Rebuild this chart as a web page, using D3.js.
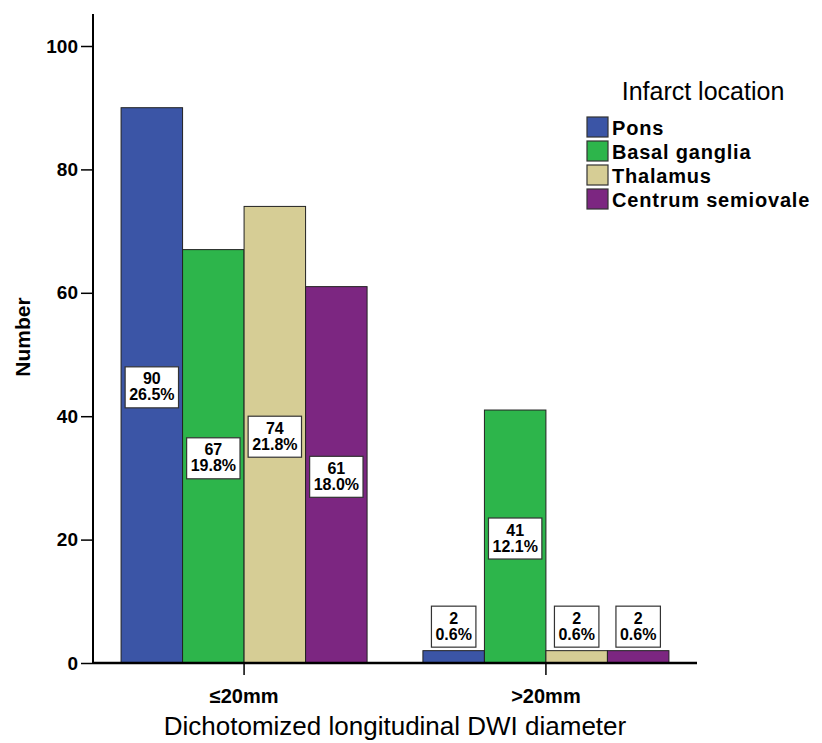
<!DOCTYPE html>
<html>
<head>
<meta charset="utf-8">
<script src="https://cdn.jsdelivr.net/npm/d3@7"></script>
<style>
  body { margin: 0; background: #fff; }
  text { font-family: "Liberation Sans", Arial, sans-serif; }
</style>
</head>
<body>
<svg width="822" height="743"></svg>
<script>
let groups = ["≤20mm", ">20mm"]
let locations = ["Pons", "Basal ganglia", "Thalamus", "Centrum semiovale"]
let colors = ["#3b55a6", "#2db54b", "#d6cd95", "#7c2681"]
let pons = [90, 2]
let basal = [67, 41]
let thalamus = [74, 2]
let centrum = [61, 2]
let pcts = [["26.5%", "0.6%"], ["19.8%", "12.1%"], ["21.8%", "0.6%"], ["18.0%", "0.6%"]]
let yTicks = [0, 20, 40, 60, 80, 100]

let series = [pons, basal, thalamus, centrum]
let dt = []
for (let i = 0; i < groups.length; i++) {
    for (let j = 0; j < locations.length; j++) {
        dt.push({group: groups[i], loc: locations[j], j: j, val: series[j][i], pct: pcts[j][i]})
    }
}

let svg = d3.select("svg")
let mLeft = 93, mRight = 697, mTop = 14, mBottom = 663

let x = d3.scaleBand().range([mLeft, mRight]).domain(groups).paddingInner(0.185).paddingOuter(0.093)
let x1 = d3.scaleBand().range([0, x.bandwidth()]).domain(locations)
let y = d3.scaleLinear().range([mBottom, 46]).domain([0, 100])

// bars
svg.append("g").selectAll("rect")
    .data(dt).enter().append("rect")
    .attr("x", (d) => x(d.group) + x1(d.loc))
    .attr("y", (d) => y(d.val))
    .attr("width", x1.bandwidth())
    .attr("height", (d) => y(0) - y(d.val))
    .attr("fill", (d) => colors[d.j])
    .attr("stroke", "#222")
    .attr("stroke-width", 1)

// labels
let lab = svg.append("g").selectAll("g")
    .data(dt).enter().append("g")
    .attr("transform", (d) => {
        let cx = x(d.group) + x1(d.loc) + x1.bandwidth() / 2
        let cy = d.val < 10 ? y(d.val) - 24 : y(d.val / 2) + 2
        return "translate(" + cx + "," + cy + ")"
    })
let box = lab.append("rect")
    .attr("y", -20.5).attr("height", 41)
    .attr("fill", "#fff").attr("stroke", "#333").attr("stroke-width", 1.2)
lab.append("text")
    .attr("text-anchor", "middle").attr("y", -3)
    .attr("font-size", "16px").attr("font-weight", "bold")
    .text((d) => d.val)
let pt = lab.append("text")
    .attr("text-anchor", "middle").attr("y", 13)
    .attr("font-size", "16px").attr("font-weight", "bold")
    .text((d) => d.pct)
pt.each(function (d) { d.w = this.getComputedTextLength() + 8 })
box.attr("x", (d) => -d.w / 2).attr("width", (d) => d.w)

// y axis
let yAxis = svg.append("g")
    .attr("transform", "translate(" + mLeft + ",0)")
    .call(d3.axisLeft(y).tickValues(yTicks).tickSize(12).tickPadding(3))
yAxis.select(".domain").remove()
yAxis.selectAll(".tick line").attr("stroke", "#000").attr("stroke-width", 1.5)
yAxis.selectAll(".tick text")
    .attr("font-size", "19px").attr("font-weight", "bold").attr("fill", "#000")
    .style("font-family", "'Liberation Sans', Arial, sans-serif")
svg.append("line")
    .attr("x1", mLeft).attr("x2", mLeft).attr("y1", mTop).attr("y2", mBottom)
    .attr("stroke", "#000").attr("stroke-width", 2)

// x axis
let xAxis = svg.append("g")
    .attr("transform", "translate(0," + mBottom + ")")
    .call(d3.axisBottom(x).tickSize(12).tickPadding(14))
xAxis.select(".domain").remove()
xAxis.selectAll(".tick line").attr("stroke", "#000").attr("stroke-width", 1.5)
xAxis.selectAll(".tick text")
    .attr("font-size", "20px").attr("font-weight", "bold").attr("fill", "#000")
    .style("font-family", "'Liberation Sans', Arial, sans-serif")
svg.append("line")
    .attr("x1", mLeft).attr("x2", mRight).attr("y1", mBottom).attr("y2", mBottom)
    .attr("stroke", "#000").attr("stroke-width", 2.5)

// axis titles
svg.append("text")
    .attr("x", (mLeft + mRight) / 2).attr("y", 735)
    .attr("text-anchor", "middle").attr("font-size", "26px")
    .text("Dichotomized longitudinal DWI diameter")
svg.append("text")
    .attr("transform", "translate(30,337) rotate(-90)")
    .attr("text-anchor", "middle").attr("font-size", "21px").attr("font-weight", "bold")
    .text("Number")

// legend
let leg = svg.append("g")
leg.append("text")
    .attr("x", 703).attr("y", 100)
    .attr("text-anchor", "middle").attr("font-size", "25px")
    .text("Infarct location")
let items = leg.selectAll("g.item")
    .data(locations).enter().append("g")
    .attr("transform", (d, i) => "translate(587," + (117 + i * 24) + ")")
items.append("rect")
    .attr("width", 21).attr("height", 20)
    .attr("fill", (d, i) => colors[i]).attr("stroke", "#333").attr("stroke-width", 1.2)
items.append("text")
    .attr("x", 25).attr("y", 18)
    .attr("font-size", "20px").attr("font-weight", "bold")
    .attr("letter-spacing", "0.8px")
    .text((d) => d)
</script>
</body>
</html>
